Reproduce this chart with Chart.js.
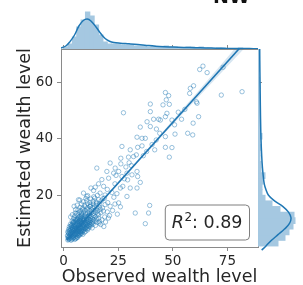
<!DOCTYPE html>
<html>
<head>
<meta charset="utf-8">
<script src="https://cdn.jsdelivr.net/npm/chart.js@4/dist/chart.umd.min.js"></script>
<style>
    html, body { margin: 0; padding: 0; background: #fff; overflow: hidden; }
    #wrap { position: relative; width: 303px; height: 285px; }
    #wrap canvas { position: absolute; }
    #title { position: absolute; left: 213px; top: -13px; font: bold 19px "DejaVu Sans"; line-height: 19px; color: #111; }
</style>
</head>
<body>
<div id="wrap">
    <canvas id="mainChart" width="303" height="285" style="left:0;top:0"></canvas>
    <canvas id="topChart" width="197" height="39" style="left:61px;top:10px"></canvas>
    <canvas id="rightChart" width="45" height="202" style="left:258px;top:49px"></canvas>
    <div id="title">NW</div>
</div>
<script>
// observed (x) vs estimated (y) wealth level
const wealthPoints = [
    // dense cluster
    [1.9,4.0],[2.6,4.4],[3.4,3.9],[4.2,4.5],[5.1,4.2],[2.2,4.9],[3.0,5.0],
    [1.8,5.6],[2.7,5.3],[3.5,5.8],[4.4,5.3],[5.3,5.9],[6.1,5.1],[7.0,5.6],[2.4,6.2],[4.0,6.1],
    [1.9,6.9],[2.9,6.6],[3.6,7.0],[4.6,6.5],[5.4,6.9],[6.2,6.3],[7.0,6.8],[7.9,6.4],[8.8,6.0],[5.0,7.4],
    [2.3,7.8],[3.2,7.5],[4.1,7.9],[5.8,7.6],[6.6,7.2],[7.4,7.8],[8.3,7.3],[9.2,7.7],[10.1,7.1],[11.0,7.6],[6.1,8.2],
    [2.6,8.7],[3.6,8.4],[4.5,8.9],[5.4,8.5],[6.9,8.6],[7.7,8.9],[8.6,8.4],[9.4,8.9],[10.3,8.5],[11.2,8.2],[12.0,8.7],[13.1,8.3],
    [3.1,9.6],[4.2,9.9],[5.3,9.4],[6.3,9.8],[7.3,9.5],[8.2,9.9],[9.0,9.3],[9.9,9.7],[10.8,9.4],[11.7,9.8],[12.6,9.3],[13.5,9.7],[14.6,9.2],[7.9,10.3],
    [3.9,10.7],[5.0,10.4],[6.1,10.9],[7.0,10.6],[8.8,10.8],[9.7,10.4],[10.6,10.9],[11.5,10.5],[12.4,10.9],[13.3,10.4],[14.2,10.8],[15.2,10.3],[16.4,10.6],
    [4.6,11.8],[5.8,11.4],[6.8,11.9],[7.7,11.5],[8.6,11.7],[9.5,11.3],[10.4,11.8],[11.3,11.4],[12.2,11.9],[13.1,11.5],[14.0,11.9],[15.0,11.4],[16.1,11.7],[17.5,11.2],
    [5.2,12.6],[6.5,12.9],[7.4,12.4],[8.4,12.8],[9.3,12.5],[10.2,12.9],[11.1,12.4],[12.0,12.8],[12.9,12.3],[13.8,12.7],[14.8,12.4],[16.0,12.9],[18.8,12.2],[20.5,11.8],
    [6.0,13.4],[7.1,13.8],[8.1,13.5],[9.0,13.9],[9.9,13.4],[10.9,13.7],[11.8,13.3],[12.7,13.8],[13.6,13.5],[14.6,13.9],[15.6,13.3],[17.0,13.7],
    [6.6,14.7],[7.8,14.4],[8.8,14.8],[9.8,14.5],[10.8,14.9],[11.7,14.4],[12.6,14.8],[13.5,14.3],[14.5,14.7],[15.6,14.4],[16.8,14.9],[18.2,14.3],
    [7.5,15.6],[8.7,15.3],[9.9,15.8],[11.0,15.4],[12.0,15.9],[13.1,15.5],[14.2,15.8],[15.3,15.3],[16.5,15.7],[17.8,15.4],
    [8.2,16.8],[9.6,16.4],[11.0,16.9],[12.3,16.5],[13.6,16.8],[14.9,16.4],[16.3,16.8],[19.0,16.6],
    [9.0,17.6],[10.6,17.9],[12.0,17.4],[13.5,17.8],[15.0,17.5],[17.2,17.9],[20.2,17.3],
    [10.2,18.8],[12.5,18.6],[14.2,18.9],[16.0,18.4],[18.0,18.7],
    [11.0,19.8],[13.8,19.4],[15.5,19.9],[23.0,19.2],
    [17.0,9.5],[19.2,10.4],[21.0,12.7],[22.4,14.5],[24.6,13.2],[18.4,8.8],[26.0,15.8],[16.3,10.0],[20.0,14.0],[23.5,16.8],
    [4.0,13.0],[5.5,14.8],[3.2,12.2],[6.2,16.4],[7.4,18.2],[4.8,16.0],
    [2.1,4.7],[3.8,4.8],[4.8,5.0],[5.8,4.7],[3.1,6.1],[4.9,6.2],[5.9,6.0],[6.7,5.7],[7.6,6.1],[2.5,7.2],
    [3.9,6.8],[4.4,7.2],[5.3,7.9],[6.9,7.6],[7.9,7.0],[8.8,8.0],[3.0,8.1],[4.0,8.6],[5.0,8.0],[6.3,8.5],
    [7.2,8.1],[8.1,8.2],[9.9,8.1],[3.6,9.1],[4.7,9.6],[5.8,9.2],[6.8,9.1],[8.6,9.6],[9.5,10.0],[10.4,10.1],
    [4.5,10.3],[5.5,10.8],[6.6,10.2],[7.5,11.0],[8.3,10.5],[9.1,11.0],[11.0,10.0],[12.0,10.2],[6.3,11.2],[8.1,12.1],
    [2.3,4.2],[3.0,4.6],[3.7,4.2],[4.6,4.8],[5.5,4.5],[6.4,4.9],[2.0,5.3],[2.9,5.7],[3.8,5.4],[4.7,5.7],
    [5.7,5.4],[6.5,6.1],[7.3,5.8],[8.2,6.3],[2.2,6.6],[3.3,6.4],[4.2,6.7],[5.2,6.3],[6.0,6.9],[6.9,6.4],
    [7.7,6.7],[8.6,7.0],[9.5,6.7],[2.8,7.3],[3.7,7.7],[4.6,7.4],[5.5,7.1],[6.3,7.5],[7.2,7.1],[8.0,7.5],
    [9.0,7.2],[9.8,7.9],[10.7,8.0],[3.3,8.9],[4.2,8.2],[5.1,8.7],[6.0,8.0],[7.0,8.4],[7.9,8.1],[8.9,8.7],
    [9.7,8.3],[10.6,8.8],[11.6,9.0],[3.8,9.4],[4.9,9.1],[5.9,9.6],[7.0,9.2],[8.0,9.7],[9.3,9.1],[10.2,9.6],
    [11.2,9.1],[12.2,9.5],[4.4,10.4],[5.6,10.1],[6.5,10.6],[7.4,10.2],[8.5,10.1],[9.4,10.7],[10.9,10.6],[12.8,10.1],
    [5.3,11.3],[6.4,11.6],[7.3,11.2],[9.0,11.5],[10.8,11.6],[11.8,11.1],[13.6,11.2],[7.8,12.3],[9.8,12.2],[11.6,12.6],
    // spread along the fit
    [62.3,64.7],[63.8,65.9],[65.7,63.6],[73.0,65.5],[81.7,56.8],[72.2,55.6],[46.6,56.5],[48.1,55.4],[47.0,53.9],[45.5,52.1],
    [48.4,52.3],[39.7,52.4],[58.0,58.0],[59.5,58.9],[60.8,53.2],[57.7,56.2],[61.1,52.7],[27.4,49.3],[47.3,49.1],[46.6,47.9],
    [49.6,46.7],[50.8,45.0],[44.3,46.7],[39.7,49.7],[41.2,47.0],[38.2,46.1],[43.5,47.0],[61.8,47.9],[59.3,45.6],[56.8,42.0],
    [59.1,41.4],[51.0,41.7],[46.6,40.8],[39.7,44.4],[35.1,44.2],[33.6,40.6],[35.9,40.2],[37.4,40.2],[42.4,39.6],[46.6,37.0],
    [49.6,36.9],[48.4,33.5],[41.7,36.1],[33.9,37.0],[35.9,37.5],[30.5,36.1],[26.7,37.3],[32.0,33.7],[33.3,34.3],[29.7,33.5],
    [26.2,33.1],[26.2,31.1],[23.6,29.6],[21.3,31.4],[15.2,29.6],[19.8,28.4],[22.9,27.8],[25.2,28.4],[29.0,27.8],[26.7,26.6],
    [31.3,27.2],[33.6,28.4],[33.9,26.6],[35.1,24.5],[29.3,25.4],[20.6,26.0],[18.3,23.1],[16.7,20.7],[18.7,18.9],[22.1,20.9],
    [24.4,20.5],[27.1,23.1],[30.5,22.5],[25.2,17.2],[21.3,16.0],[29.0,19.5],[33.6,22.5],[39.4,16.3],[38.9,13.6],[37.4,9.8],
    [32.8,13.6],[13.7,21.6],[10.6,19.5],[9.1,20.7],[6.8,18.3],[5.3,13.6],[8.3,13.0],[12.2,16.0],
    [14.5,22.8],[17.5,25.5],[20.0,22.0],[23.5,24.0],[26.0,22.5],[28.5,30.0],[31.0,30.5],[24.0,27.0],[19.0,20.0],[15.0,17.0],
    [27.8,25.8],[12.5,22.5],[16.0,24.0],[30.0,31.5],[36.5,34.0],[38.0,35.5],[40.5,38.0],[44.0,42.0],[52.5,49.5],[54.0,47.0],
    [55.5,50.5],[42.5,43.5]
];

// regression line and its confidence band
const fitObserved = [1.5, 88];
const fitEstimated = [4.0, 78.7];
const ciObserved = [1.5, 15, 30, 45, 60, 75, 88];
const ciLower = [3.1, 15.2, 28.15, 41.0, 53.5, 65.9, 76.5];
const ciUpper = [4.9, 16.2, 29.05, 42.2, 55.5, 69.1, 80.9];

// top marginal: histogram of observed level (bin centres, 2-wide bins) and kde
const obsBinCenters = [1,3,5,7,9,11,13,15,17,19,21,23,25,27,29,31,33,35,37,39,41,43,45,47,49,51,53,55,57,59,61,63,65,67,69,71,73,75,77,79,81,83,85,87];
const obsDensity = [2,5,12,22,29,37,33,24,14,7,5,5,5,4,4,4,3,3,3,2,3,2,2,3,2,2,1,1.5,2,2,1.5,2,1,1,0.5,1,1,0.5,0.5,0.5,1,0,0,0.5];
const obsKdeX = [-1.5,1,3,5,7,9,10.8,12.5,15,17,19,21,23,26,30,34,38,42,46,50,55,60,65,70,75,80,85,89];
const obsKdeY = [0.8,3,7.6,14,23,28.5,30,28,21.5,15.5,10.5,7.8,6.5,5.8,5.2,4.5,3.6,2.8,2.3,2.0,1.6,1.3,1.0,0.8,0.6,0.5,0.4,0.3];

// right marginal: histogram of estimated level and kde
const estBinCenters = [3,5,7,9,11,13,15,17,19,21,23,25,27,29,31,33,35,37,39,41,43,45,47,49,51,53,55,57,59,61,63,65,67,69,71];
const estDensity = [20,27,31,35,37,36,22,14,7,4,4,5,7,3,3,2,2,3,2,4,2,2,1.5,2,1.5,2,1.5,1.5,2,1.5,1,1.5,1.5,1,1];
const estKdeY = [0.5,2,4,6,8,10,12,14,16,18,20,22,24,27,30,34,40,48,56,64,72];
const estKdeX = [3.7,8,13.5,20,26.5,31.5,33,30.5,25,16.5,10.5,8,6.3,5.2,4.4,3.7,3,2.5,2.2,1.9,1.7];

const obsRange = [-1.2, 89];
const estRange = [1.5, 72];
const blue = "#1f77b4";
const barFill = "#a5c8e1";
const spineColor = "#8a8a8a";
const textColor = "#262626";

Chart.defaults.font.family = '"DejaVu Sans", sans-serif';
Chart.defaults.color = textColor;

function xyPairs(xs, ys) {
    return xs.map(function (x, i) { return { x: x, y: ys[i] }; });
}

const r2Box = {
    id: "r2Box",
    afterDatasetsDraw: function (chart) {
        const ctx = chart.ctx;
        const area = chart.chartArea;
        const size = 17.5;
        const main = size + 'px "DejaVu Sans"';
        const ital = "italic " + main;
        const sup = Math.round(size * 0.7) + 'px "DejaVu Sans"';
        ctx.save();
        ctx.font = ital; const wR = ctx.measureText("R").width;
        ctx.font = sup; const wS = ctx.measureText("2").width;
        ctx.font = main; const wT = ctx.measureText(": 0.89").width;
        const boxW = wR + wS + wT + 14, boxH = 35;
        const right = area.right - 9, bottom = area.bottom - 7.5;
        const left = right - boxW, top = bottom - boxH;
        ctx.beginPath();
        ctx.roundRect(left + 0.5, top + 0.5, boxW, boxH, 4);
        ctx.fillStyle = "rgba(255,255,255,0.85)";
        ctx.fill();
        ctx.strokeStyle = "#7f7f7f";
        ctx.lineWidth = 1;
        ctx.stroke();
        const base = top + boxH / 2 + size * 0.36;
        let x = left + 7;
        ctx.fillStyle = textColor;
        ctx.textBaseline = "alphabetic";
        ctx.font = ital; ctx.fillText("R", x, base); x += wR + 0.5;
        ctx.font = sup; ctx.fillText("2", x, base - 7); x += wS;
        ctx.font = main; ctx.fillText(": 0.89", x, base);
        ctx.restore();
    }
};

const tickGrid = { display: true, drawOnChartArea: false, drawTicks: true, tickLength: 4, color: spineColor, lineWidth: 1 };
const frame = { display: true, color: spineColor, width: 1 };

new Chart(document.getElementById("mainChart"), {
    type: "scatter",
    data: {
        datasets: [
            {
                data: xyPairs(ciObserved, ciUpper),
                showLine: true, pointRadius: 0, borderWidth: 0,
                backgroundColor: "rgba(31,119,180,0.18)", fill: "+1", clip: 0
            },
            {
                data: xyPairs(ciObserved, ciLower),
                showLine: true, pointRadius: 0, borderWidth: 0, fill: false, clip: 0
            },
            {
                data: wealthPoints.map(function (p) { return { x: p[0], y: p[1] }; }),
                pointRadius: 2.2, pointBorderWidth: 0.9,
                borderColor: "rgba(31,119,180,0.5)", backgroundColor: "rgba(0,0,0,0)"
            },
            {
                data: xyPairs(fitObserved, fitEstimated),
                showLine: true, pointRadius: 0, borderColor: blue, borderWidth: 1.6, clip: 0
            }
        ]
    },
    options: {
        responsive: false,
        animation: false,
        devicePixelRatio: 1,
        layout: { padding: 0 },
        plugins: { legend: { display: false }, tooltip: { enabled: false } },
        scales: {
            x: {
                type: "linear", position: "bottom", min: obsRange[0], max: obsRange[1],
                ticks: { stepSize: 25, includeBounds: false, padding: 2, maxRotation: 0, font: { size: 13.5 } },
                grid: tickGrid, border: frame,
                title: { display: true, text: "Observed wealth level", font: { size: 17.5 }, padding: { top: 0, bottom: -3 } },
                afterFit: function (s) { s.height = 38; }
            },
            xTop: {
                type: "linear", position: "top", min: obsRange[0], max: obsRange[1],
                ticks: { stepSize: 25, includeBounds: false, display: false },
                grid: tickGrid, border: frame,
                afterFit: function (s) { s.height = 49; }
            },
            y: {
                type: "linear", position: "left", min: estRange[0], max: estRange[1],
                ticks: { stepSize: 20, includeBounds: false, padding: 4, font: { size: 13.5 } },
                grid: tickGrid, border: frame,
                title: { display: true, text: "Estimated wealth level", font: { size: 17.5 }, padding: { top: 15, bottom: 0 } },
                afterFit: function (s) { s.width = 61; }
            },
            yRight: {
                type: "linear", position: "right", min: estRange[0], max: estRange[1],
                ticks: { stepSize: 20, includeBounds: false, display: false },
                grid: tickGrid, border: frame,
                afterFit: function (s) { s.width = 45; }
            }
        }
    },
    plugins: [r2Box]
});

// top marginal
new Chart(document.getElementById("topChart"), {
    type: "bar",
    data: {
        datasets: [
            {
                type: "line",
                data: xyPairs(obsKdeX, obsKdeY),
                borderColor: blue, borderWidth: 1.5, pointRadius: 0, tension: 0.4, fill: false, clip: 2
            },
            {
                data: xyPairs(obsBinCenters, obsDensity),
                backgroundColor: barFill, borderWidth: 0, inflateAmount: 0.5,
                barPercentage: 1, categoryPercentage: 1
            }
        ]
    },
    options: {
        responsive: false, animation: false, devicePixelRatio: 1,
        layout: { padding: 0 },
        plugins: { legend: { display: false }, tooltip: { enabled: false } },
        scales: {
            x: { type: "linear", display: false, offset: false, min: obsRange[0], max: obsRange[1] },
            y: { type: "linear", display: false, min: 0, max: 39 }
        }
    }
});

// right marginal
new Chart(document.getElementById("rightChart"), {
    type: "bar",
    data: {
        datasets: [
            {
                type: "line",
                data: xyPairs(estKdeX, estKdeY),
                borderColor: blue, borderWidth: 1.5, pointRadius: 0, tension: 0.4, fill: false, clip: 2
            },
            {
                data: xyPairs(estDensity, estBinCenters),
                backgroundColor: barFill, borderWidth: 0, inflateAmount: 0.5,
                barPercentage: 1, categoryPercentage: 1
            }
        ]
    },
    options: {
        indexAxis: "y",
        responsive: false, animation: false, devicePixelRatio: 1,
        layout: { padding: 0 },
        plugins: { legend: { display: false }, tooltip: { enabled: false } },
        scales: {
            y: { type: "linear", display: false, offset: false, min: 0.2, max: estRange[1] },
            x: { type: "linear", display: false, min: 0, max: 45 }
        }
    }
});
</script>
</body>
</html>
